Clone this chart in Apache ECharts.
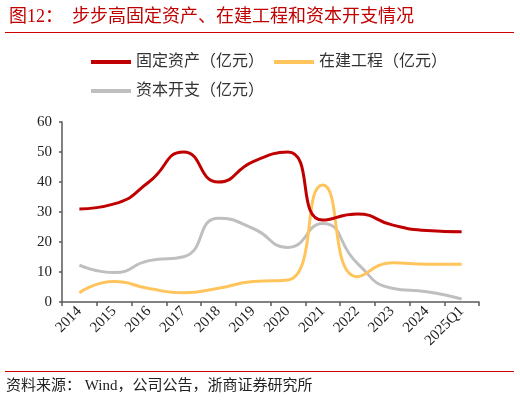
<!DOCTYPE html>
<html>
<head>
<meta charset="utf-8">
<script src="https://cdn.jsdelivr.net/npm/echarts@6/dist/echarts.min.js"></script>
<style>
html,body{margin:0;padding:0;background:#fff;}
#c{width:520px;height:403px;}
</style>
</head>
<body>
<div id="c"></div>
<script>
var categories = ['2014','2015','2016','2017','2018','2019','2020','2021','2022','2023','2024','2025Q1'];
var fixedAssets = [31, 32.7, 40, 50, 40, 46.8, 50, 27.3, 29.3, 25.7, 23.8, 23.4];
var construction = [3.1, 6.8, 4.5, 3.1, 4.6, 6.8, 7.3, 39, 8.4, 13.1, 12.6, 12.6];
var capex = [12.3, 9.8, 13.8, 15.1, 27.9, 24.5, 18.2, 26.2, 12.9, 4.6, 3.4, 1.0];
var seriesNames = ['固定资产（亿元）', '在建工程（亿元）', '资本开支（亿元）'];
var titleText = '图12：  步步高固定资产、在建工程和资本开支情况';
var sourceText = '资料来源： Wind，公司公告，浙商证券研究所';

var serifFont = '"Liberation Serif", "Noto Sans CJK SC", serif';
var cjkFont = '"Liberation Serif", "Noto Sans CJK SC", sans-serif';
var chart = echarts.init(document.getElementById('c'));
var axisColor = '#595959';
chart.setOption({
  animation: false,
  backgroundColor: '#fff',
  title: {
    text: titleText,
    left: 4, top: 3,
    textStyle: {color: '#c00000', fontSize: 18, fontWeight: 'normal', fontFamily: cjkFont}
  },
  graphic: [
    {type: 'line', shape: {x1: 5, y1: 32.5, x2: 514, y2: 32.5}, style: {stroke: '#d00000', lineWidth: 1}},
    {type: 'line', shape: {x1: 5, y1: 371.5, x2: 514, y2: 371.5}, style: {stroke: '#d00000', lineWidth: 1}},
    {type: 'text', left: 6, top: 379, style: {text: sourceText, fill: '#222', fontSize: 15, fontFamily: cjkFont}}
  ],
  legend: [
    {
      data: [seriesNames[0], seriesNames[1]],
      left: 86, top: 49,
      icon: 'rect', itemWidth: 40, itemHeight: 4, itemGap: 10,
      textStyle: {fontSize: 16, color: '#333', fontFamily: cjkFont}
    },
    {
      data: [seriesNames[2]],
      left: 86, top: 78,
      icon: 'rect', itemWidth: 40, itemHeight: 4, itemGap: 10,
      textStyle: {fontSize: 16, color: '#333', fontFamily: cjkFont}
    }
  ],
  grid: {left: 62, right: 41, top: 122, bottom: 101, containLabel: false},
  xAxis: {
    type: 'category',
    data: categories,
    boundaryGap: true,
    axisLine: {lineStyle: {color: axisColor, width: 1.5}},
    axisTick: {show: true, alignWithLabel: false, length: 4, lineStyle: {color: axisColor, width: 1.5}},
    axisLabel: {rotate: 45, fontSize: 15, color: '#222', fontFamily: serifFont, interval: 0, margin: 7}
  },
  yAxis: {
    type: 'value',
    min: 0, max: 60, interval: 10,
    axisLine: {show: true, lineStyle: {color: axisColor, width: 1.5}},
    axisTick: {show: true, length: 3, lineStyle: {color: axisColor, width: 1.5}},
    splitLine: {show: false},
    axisLabel: {fontSize: 15, color: '#222', fontFamily: serifFont, margin: 10}
  },
  series: [
    {name: seriesNames[0], type: 'line', data: fixedAssets, smooth: 0.55, showSymbol: false,
     lineStyle: {color: '#c00000', width: 3}, itemStyle: {color: '#c00000'}, z: 3},
    {name: seriesNames[1], type: 'line', data: construction, smooth: 0.55, showSymbol: false,
     lineStyle: {color: '#ffc55c', width: 3}, itemStyle: {color: '#ffc55c'}, z: 2},
    {name: seriesNames[2], type: 'line', data: capex, smooth: 0.55, showSymbol: false,
     lineStyle: {color: '#bfbfbf', width: 3}, itemStyle: {color: '#bfbfbf'}, z: 1}
  ]
});
</script>
</body>
</html>
